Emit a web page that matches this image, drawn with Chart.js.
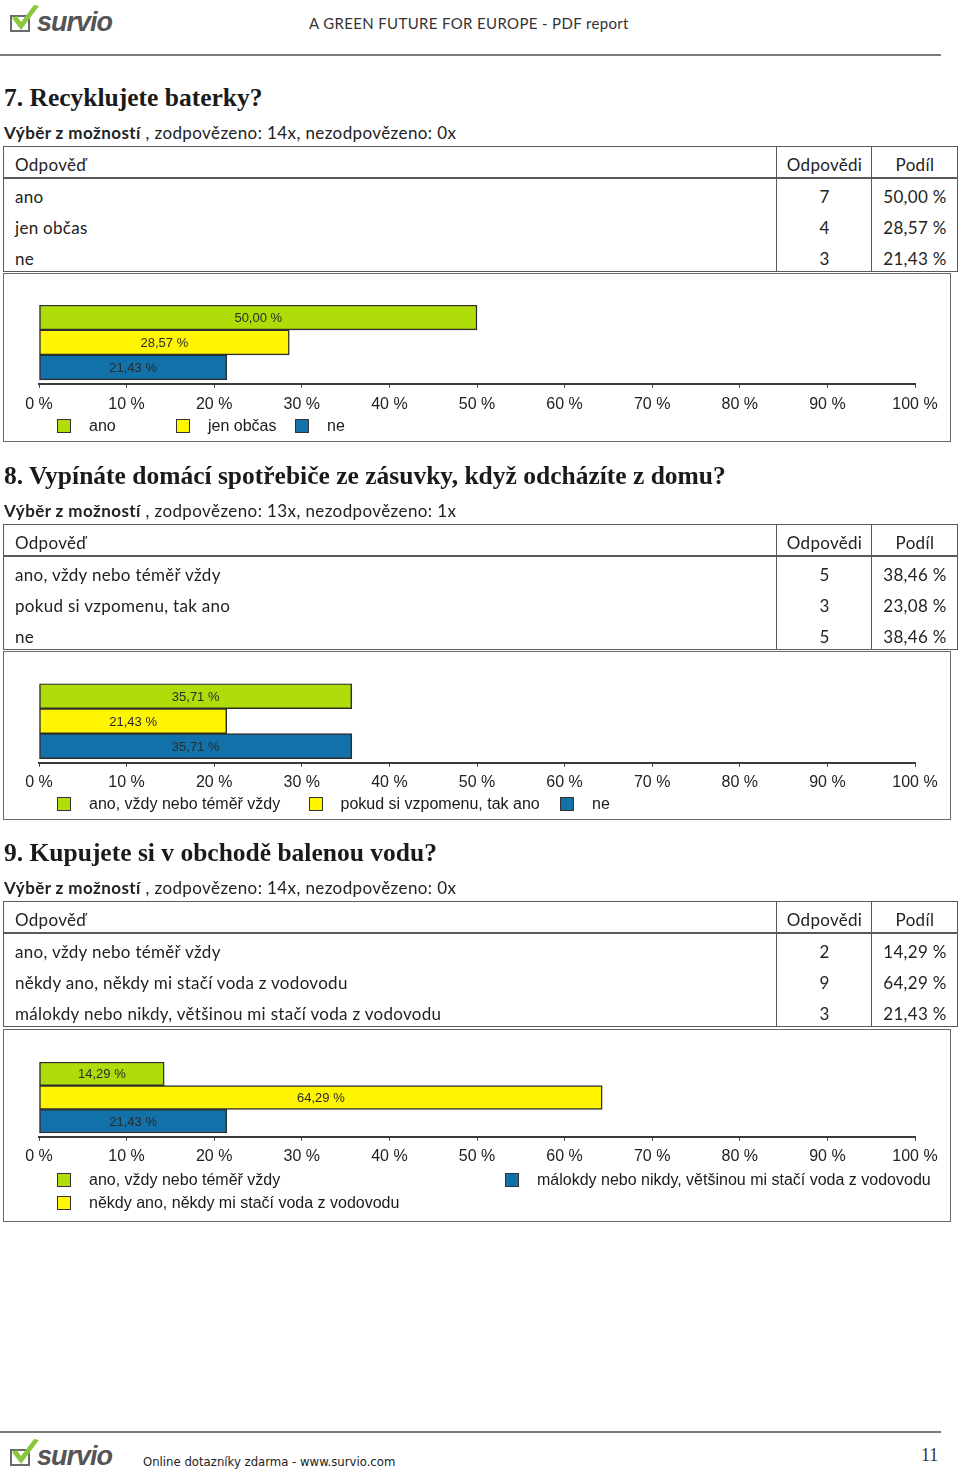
<!DOCTYPE html>
<html>
<head>
<meta charset="utf-8">
<title>A GREEN FUTURE FOR EUROPE - PDF report</title>
<script src="https://cdn.jsdelivr.net/npm/chart.js@4.4.1/dist/chart.umd.min.js"></script>
<style>
  body { margin: 0; width: 960px; height: 1472px; position: relative; overflow: hidden;
         background: #fff; color: #222; font-family: Lato, "Open Sans", sans-serif; }
  .abs { position: absolute; }
  .rule { position: absolute; left: 0; width: 941px; height: 2px; background: #7a7a7a; }
  .section { position: absolute; left: 0; width: 960px; height: 380px; }
  .qtitle { position: absolute; left: 4px; top: 83px; font-family: "Liberation Serif", serif; font-weight: bold;
            font-size: 25.5px; line-height: 30px; white-space: nowrap; color: #1a1a1a; }
  .qsub { position: absolute; left: 4px; top: 122px; font-size: 17px; line-height: 22px; white-space: nowrap;
          letter-spacing: 0.4px; }
  .qsub b { font-weight: bold; }
  .tbl { position: absolute; left: 3px; top: 146px; width: 955px; height: 126px; box-sizing: border-box;
         border: 1.5px solid #5a5a5a; }
  .tbl .hl { position: absolute; left: 0; right: 0; top: 30px; height: 1.5px; background: #5a5a5a; }
  .tbl .vl { position: absolute; top: 0; bottom: 0; width: 1.5px; background: #5a5a5a; }
  .cell { position: absolute; height: 31px; line-height: 31px; font-size: 17px; white-space: nowrap;
          letter-spacing: 0.3px; }
  .box { position: absolute; left: 3px; width: 948px; box-sizing: border-box; border: 1.5px solid #6a6a6a; }
  canvas { position: absolute; left: 4px; }
  .legend { position: absolute; left: 57px; display: grid; grid-auto-flow: column;
            font-family: "Liberation Sans", Arial, sans-serif; font-size: 16px; color: #1a1a1a; }
  .legend .item { display: flex; align-items: center; height: 23px; white-space: nowrap; }
  .legend .sw { width: 12px; height: 12px; border: 1px solid #333; margin-right: 18px; }
</style>
</head>
<body>

<svg class="abs" style="left:8px;top:3px" width="110" height="32" viewBox="0 0 110 32">
  <rect x="3" y="13" width="18" height="15" fill="none" stroke="#6a6a6a" stroke-width="2"/>
  <path d="M4 15 L9 13 L13 19 L26 2 L31 3 L13 27 Z" fill="#8cc63f"/>
  <text x="29" y="28" font-family="Liberation Sans" font-weight="bold" font-style="italic" font-size="27"
        textLength="76" fill="#555">survio</text>
</svg>
<div class="abs" style="left:309px;top:13px;font-size:15px;line-height:20px;color:#333;letter-spacing:0.35px">A GREEN FUTURE FOR EUROPE - PDF report</div>
<div class="rule" style="top:54px"></div>

<div id="sections"></div>

<div class="rule" style="top:1431px"></div>
<svg class="abs" style="left:8px;top:1437px" width="110" height="32" viewBox="0 0 110 32">
  <rect x="3" y="13" width="18" height="15" fill="none" stroke="#6a6a6a" stroke-width="2"/>
  <path d="M4 15 L9 13 L13 19 L26 2 L31 3 L13 27 Z" fill="#8cc63f"/>
  <text x="29" y="28" font-family="Liberation Sans" font-weight="bold" font-style="italic" font-size="27"
        textLength="76" fill="#555">survio</text>
</svg>
<div class="abs" style="left:143px;top:1454px;font-family:'Liberation Sans Narrow','DejaVu Sans Condensed',sans-serif;font-size:13px;line-height:16px;color:#222">Online dotazníky zdarma - www.survio.com</div>
<div class="abs" style="left:921px;top:1445px;font-family:'Liberation Serif',serif;font-size:18px;line-height:20px;color:#333">11</div>

<script>
// otázky
const titles = [
  "7. Recyklujete baterky?",
  "8. Vypínáte domácí spotřebiče ze zásuvky, když odcházíte z domu?",
  "9. Kupujete si v obchodě balenou vodu?"
];
const answered = [14, 13, 14];
const unanswered = [0, 1, 0];

// odpovědi, počty, podíly v tabulce, hodnoty v grafu
const q7Answers = ["ano", "jen občas", "ne"];
const q7Counts = [7, 4, 3];
const q7Shares = [50.00, 28.57, 21.43];
const q7Bars = [50.00, 28.57, 21.43];

const q8Answers = ["ano, vždy nebo téměř vždy", "pokud si vzpomenu, tak ano", "ne"];
const q8Counts = [5, 3, 5];
const q8Shares = [38.46, 23.08, 38.46];
const q8Bars = [35.71, 21.43, 35.71];

const q9Answers = ["ano, vždy nebo téměř vždy", "někdy ano, někdy mi stačí voda z vodovodu",
                   "málokdy nebo nikdy, většinou mi stačí voda z vodovodu"];
const q9Counts = [2, 9, 3];
const q9Shares = [14.29, 64.29, 21.43];
const q9Bars = [14.29, 64.29, 21.43];

// osa x
const axisTicks = [0, 10, 20, 30, 40, 50, 60, 70, 80, 90, 100];

const barColors = ["#b0dc0a", "#fff500", "#1271a8"];

const fmt = v => v.toFixed(2).replace(".", ",") + " %";

// rozložení jednotlivých bloků (pozice, ne data)
const layouts = [
  { top: 0,   boxTop: 273, boxH: 169, pad: 32,   plot: 79,   tickPad: 7, legendTop: 141, cols: 119,   rows: 1 },
  { top: 378, boxTop: 273, boxH: 169, pad: 32.5, plot: 79.5, tickPad: 6, legendTop: 141, cols: 251.5, rows: 1 },
  { top: 755, boxTop: 274, boxH: 193, pad: 33,   plot: 75,   tickPad: 6, legendTop: 139, cols: 448,   rows: 2 }
];

const valueLabels = {
  id: "valueLabels",
  afterDatasetsDraw(chart) {
    const ctx = chart.ctx;
    const ds = chart.data.datasets[0];
    ctx.save();
    ctx.font = '13px "Liberation Sans"';
    ctx.fillStyle = "#2b2b2b";
    ctx.textAlign = "center";
    ctx.textBaseline = "middle";
    chart.getDatasetMeta(0).data.forEach((bar, i) => {
      ctx.fillText(fmt(ds.data[i].x), (bar.x + bar.base) / 2, bar.y + 1);
    });
    ctx.restore();
  }
};

function buildSection(idx, answers, counts, shares, bars) {
  const g = layouts[idx];
  const sec = document.createElement("div");
  sec.className = "section";
  sec.style.top = g.top + "px";

  let rows = "";
  answers.forEach((a, i) => {
    const top = 34 + i * 31;
    rows += `<div class="cell" style="left:11px;top:${top}px">${a}</div>
             <div class="cell" style="left:773px;width:95px;text-align:center;top:${top}px">${counts[i]}</div>
             <div class="cell" style="left:868px;width:86px;text-align:center;top:${top}px">${fmt(shares[i])}</div>`;
  });

  sec.innerHTML = `
    <div class="qtitle">${titles[idx]}</div>
    <div class="qsub"><b>Výběr z možností</b> , zodpovězeno: ${answered[idx]}x, nezodpovězeno: ${unanswered[idx]}x</div>
    <div class="tbl">
      <div class="hl"></div>
      <div class="vl" style="left:771.5px"></div>
      <div class="vl" style="left:866.5px"></div>
      <div class="cell" style="left:11px;top:1.5px">Odpověď</div>
      <div class="cell" style="left:773px;width:95px;text-align:center;top:1.5px">Odpovědi</div>
      <div class="cell" style="left:868px;width:86px;text-align:center;top:1.5px">Podíl</div>
      ${rows}
    </div>
    <div class="box" style="top:${g.boxTop}px;height:${g.boxH}px"></div>
  `;

  const canvasH = g.pad + g.plot + 4 + 19 + 2 * g.tickPad;
  const canvas = document.createElement("canvas");
  canvas.width = 946;
  canvas.height = Math.ceil(canvasH);
  canvas.style.top = g.boxTop + "px";
  sec.appendChild(canvas);

  const legend = document.createElement("div");
  legend.className = "legend";
  legend.style.top = (g.boxTop + g.legendTop) + "px";
  legend.style.gridTemplateRows = `repeat(${g.rows}, 23px)`;
  legend.style.gridAutoColumns = g.cols + "px";
  legend.innerHTML = answers.map((a, i) =>
    `<div class="item"><span class="sw" style="background:${barColors[i]}"></span>${a}</div>`).join("");
  sec.appendChild(legend);

  document.getElementById("sections").appendChild(sec);

  new Chart(canvas, {
    type: "bar",
    data: {
      labels: answers,
      datasets: [{
        data: bars.map((v, i) => ({ x: v, y: i })),
        backgroundColor: barColors,
        borderColor: "#2f2f2f",
        borderWidth: 1.5,
        borderSkipped: false,
        categoryPercentage: 1,
        barPercentage: 1
      }]
    },
    options: {
      indexAxis: "y",
      responsive: false,
      animation: false,
      layout: { padding: { top: g.pad, left: 35, right: 35, bottom: 0 } },
      plugins: { legend: { display: false }, tooltip: { enabled: false } },
      scales: {
        y: {
          type: "linear", reverse: true, min: -0.5, max: 2.66, display: false,
          offset: false, grid: { offset: false },
          afterBuildTicks: s => { s.ticks = answers.map((a, i) => ({ value: i })); }
        },
        x: {
          type: "linear", min: 0, max: 100,
          afterBuildTicks: s => { s.ticks = axisTicks.map(v => ({ value: v })); },
          ticks: {
            callback: v => v + " %",
            font: { family: "Liberation Sans", size: 16 },
            color: "#222",
            padding: g.tickPad,
            maxRotation: 0,
            autoSkip: false
          },
          grid: { drawOnChartArea: false, tickLength: 4, color: "#444", lineWidth: 1 },
          border: { color: "#3a3a3a", width: 2 }
        }
      }
    },
    plugins: [valueLabels]
  });
}

buildSection(0, q7Answers, q7Counts, q7Shares, q7Bars);
buildSection(1, q8Answers, q8Counts, q8Shares, q8Bars);
buildSection(2, q9Answers, q9Counts, q9Shares, q9Bars);
</script>
</body>
</html>
